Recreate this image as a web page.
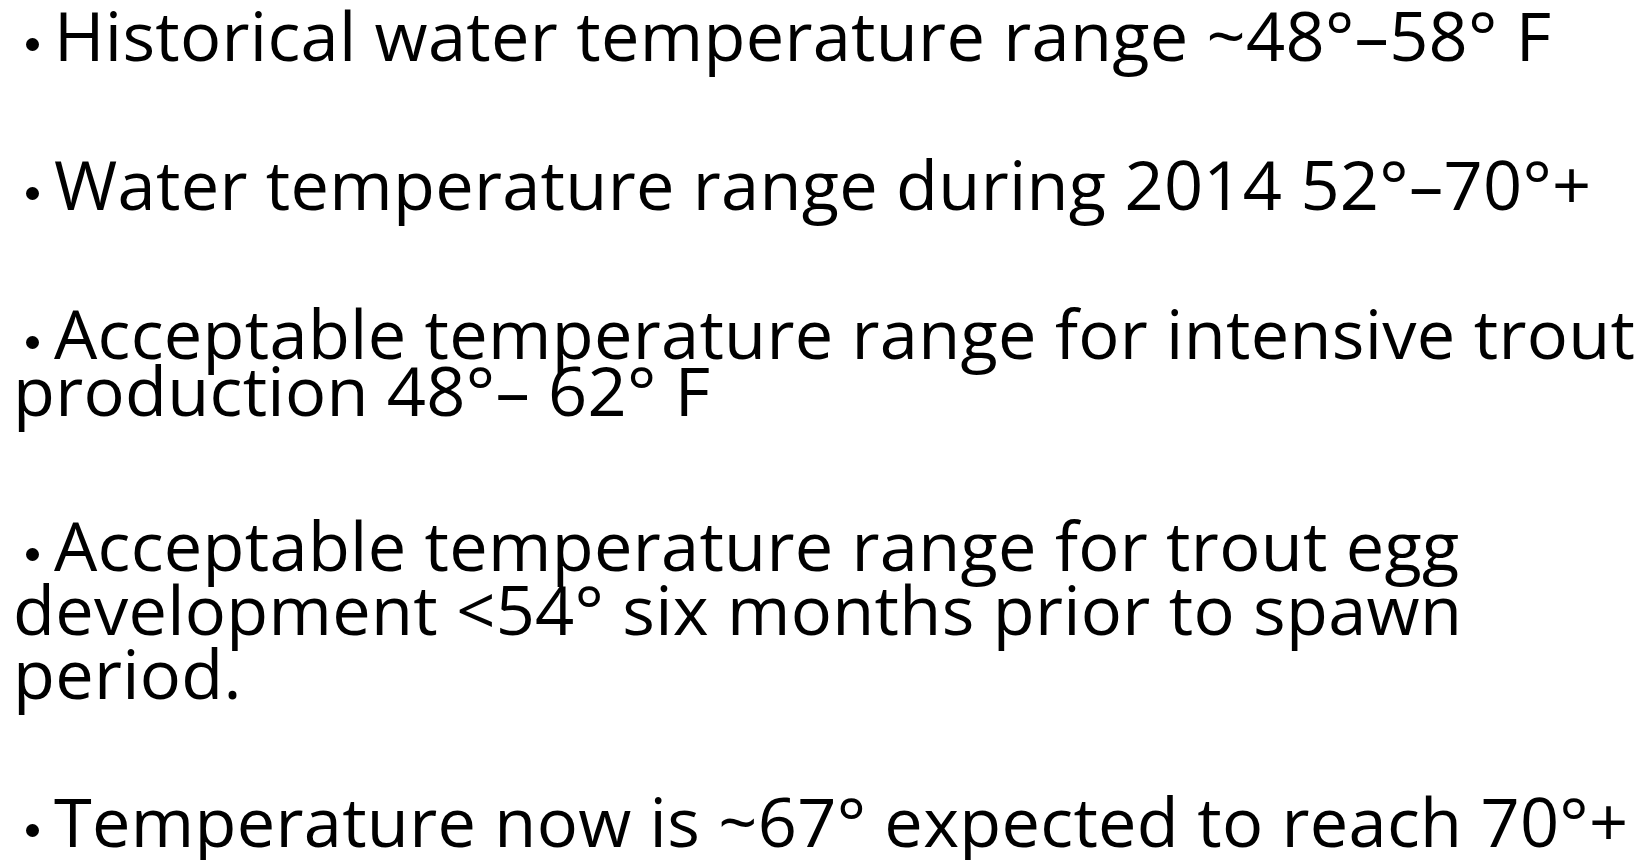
<!DOCTYPE html>
<html><head><meta charset="utf-8">
<script src="https://cdn.jsdelivr.net/npm/chart.js@4"></script>
<style>
body{margin:0;width:1648px;height:860px;overflow:hidden;background:#fff;position:relative;
  font-family:'Open Sans',sans-serif;}
.ln{position:absolute;white-space:nowrap;color:#000;font-size:68.5px;line-height:0.8;letter-spacing:0.3px;}
.bul{position:absolute;width:13px;height:13px;border-radius:50%;background:#000;}
</style></head><body>
<script>
// slide text, one entry per bullet, wrapped as in the original
var BULLET_1 = ['Historical water temperature range ~48°–58° F'];
var BULLET_2 = ['Water temperature range during 2014 52°–70°+'];
var BULLET_3 = ['Acceptable temperature range for intensive trout', 'production 48°– 62° F'];
var BULLET_4 = ['Acceptable temperature range for trout egg', 'development <54° six months prior to spawn', 'period.'];
var BULLET_5 = ['Temperature now is ~67° expected to reach 70°+'];

var BULLETS = [BULLET_1, BULLET_2, BULLET_3, BULLET_4, BULLET_5];

// layout: baseline of every line, per bullet
var BASELINES = [[62], [211], [360, 417], [572, 636, 700], [848]];
var TEXT_X = 54, WRAP_X = 13, BULLET_X = 25.5;
var ASC = 0.788 * 68.5;   // top of box to baseline for line-height 0.8

BULLETS.forEach(function (lines, i) {
  var base = BASELINES[i][0];
  var dot = document.createElement('div');
  dot.className = 'bul';
  dot.style.left = BULLET_X + 'px';
  dot.style.top = (base - 18 - 6.5) + 'px';
  document.body.appendChild(dot);
  lines.forEach(function (txt, j) {
    var el = document.createElement('div');
    el.className = 'ln';
    el.textContent = txt;
    el.style.left = (j === 0 ? TEXT_X : WRAP_X) + 'px';
    el.style.top = (BASELINES[i][j] - ASC) + 'px';
    document.body.appendChild(el);
  });
});
</script>
</body></html>
